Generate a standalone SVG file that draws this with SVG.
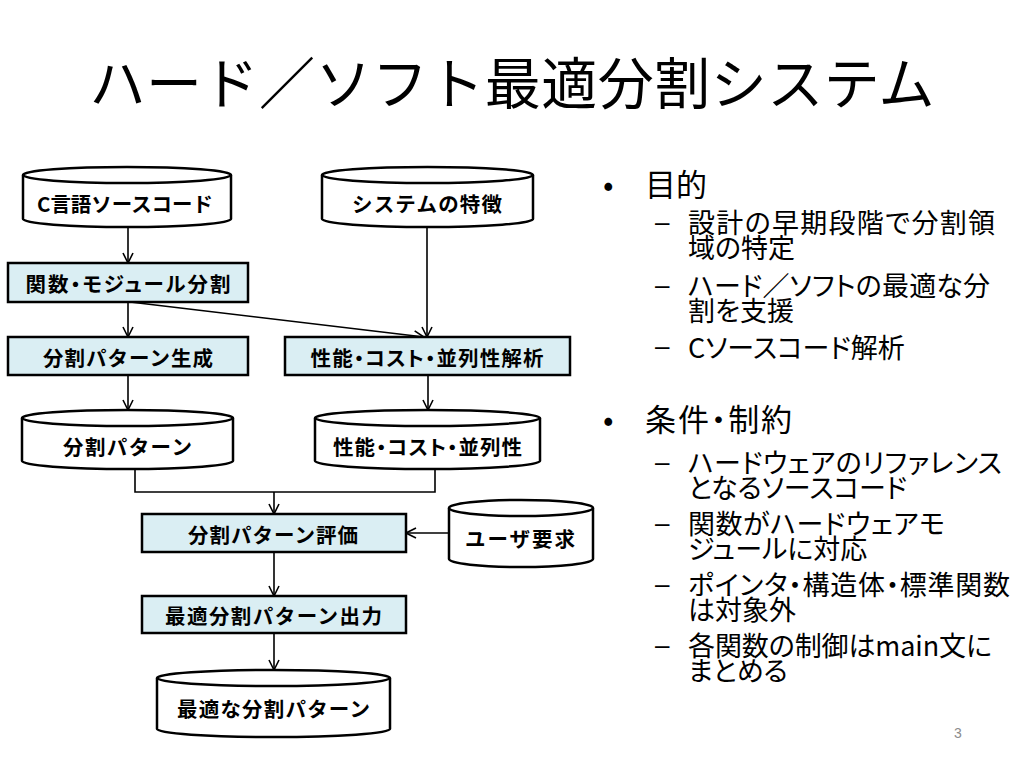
<svg xmlns="http://www.w3.org/2000/svg" width="1024" height="768" viewBox="0 0 1024 768">
<style>
.node{fill:#ffffff;stroke:#000;stroke-width:2.5}
.proc{fill:#DAEEF3;stroke:#000;stroke-width:2.5}
.inner{fill:none;stroke:#000;stroke-width:2.5}
.lbl{font-family:"Noto Sans CJK JP","Noto Sans",sans-serif;font-weight:700;font-size:20.5px;fill:#000;text-anchor:middle;dominant-baseline:central}
.lblp{font-feature-settings:"palt"}
.conn{fill:none;stroke:#000;stroke-width:1.6}
.title{font-family:"Noto Sans CJK JP","Noto Sans",sans-serif;font-size:56px;fill:#000;text-anchor:middle;dominant-baseline:central}
.b1{font-family:"Noto Sans CJK JP","Noto Sans",sans-serif;font-size:31px;fill:#000;dominant-baseline:central;font-feature-settings:"palt"}
.b2{font-family:"Noto Sans CJK JP","Noto Sans",sans-serif;font-size:27px;fill:#000;dominant-baseline:central;font-feature-settings:"palt"}
.dash{font-family:"Liberation Sans",sans-serif;font-size:26px;fill:#000;dominant-baseline:central}
.pg{font-family:"Liberation Sans",sans-serif;font-size:14px;fill:#8c8c8c;text-anchor:middle;dominant-baseline:central}
</style>
<defs>
<marker id="ah" viewBox="0 0 12 12" refX="11" refY="6" markerWidth="12" markerHeight="12" markerUnits="userSpaceOnUse" orient="auto">
<path d="M1,1 L11,6 L1,11" fill="none" stroke="#000" stroke-width="1.6"/>
</marker>
</defs>
<rect x="0" y="0" width="1024" height="768" fill="#ffffff"/>

<text class="title" x="512" y="79" textLength="845" lengthAdjust="spacing">ハード／ソフト最適分割システム</text>

<g id="connectors">
<line class="conn" x1="128" y1="227" x2="128" y2="263" marker-end="url(#ah)"/>
<line class="conn" x1="128" y1="302" x2="128" y2="337" marker-end="url(#ah)"/>
<line class="conn" x1="130" y1="302" x2="424" y2="337" marker-end="url(#ah)"/>
<line class="conn" x1="427" y1="227" x2="427" y2="337" marker-end="url(#ah)"/>
<line class="conn" x1="128" y1="375" x2="128" y2="410" marker-end="url(#ah)"/>
<line class="conn" x1="428" y1="375" x2="428" y2="410" marker-end="url(#ah)"/>
<path class="conn" d="M135,469 V492 H435 V469"/>
<line class="conn" x1="274" y1="492" x2="274" y2="514" marker-end="url(#ah)"/>
<line class="conn" x1="449" y1="533" x2="406" y2="533" marker-end="url(#ah)"/>
<line class="conn" x1="274" y1="552" x2="274" y2="596" marker-end="url(#ah)"/>
<line class="conn" x1="274" y1="633" x2="274" y2="670" marker-end="url(#ah)"/>
</g>

<g id="node-csource">
<path class="node" d="M23,175 A104,8 0 0 1 231,175 L231,219 A104,8 0 0 1 23,219 Z"/>
<path class="inner" d="M23,175 A104,8 0 0 0 231,175"/>
<text class="lbl" x="125" y="203" textLength="176" lengthAdjust="spacing">C言語ソースコード</text>
</g>

<g id="node-syschar">
<path class="node" d="M322,175 A105.5,8 0 0 1 533,175 L533,219 A105.5,8 0 0 1 322,219 Z"/>
<path class="inner" d="M322,175 A105.5,8 0 0 0 533,175"/>
<text class="lbl" x="427" y="203" textLength="150" lengthAdjust="spacing">システムの特徴</text>
</g>

<g id="node-funcsplit">
<rect class="proc" x="8" y="263" width="240" height="39"/>
<text class="lbl lblp" x="128" y="283" textLength="205" lengthAdjust="spacing">関数・モジュール分割</text>
</g>

<g id="node-patgen">
<rect class="proc" x="8" y="337" width="240" height="38"/>
<text class="lbl" x="128" y="357" textLength="170" lengthAdjust="spacing">分割パターン生成</text>
</g>

<g id="node-analysis">
<rect class="proc" x="285" y="337" width="285" height="38"/>
<text class="lbl lblp" x="427" y="357" textLength="233" lengthAdjust="spacing">性能・コスト・並列性解析</text>
</g>

<g id="node-pattern">
<path class="node" d="M22,418 A105.5,8 0 0 1 233,418 L233,461 A105.5,8 0 0 1 22,461 Z"/>
<path class="inner" d="M22,418 A105.5,8 0 0 0 233,418"/>
<text class="lbl" x="127.5" y="446" textLength="129" lengthAdjust="spacing">分割パターン</text>
</g>

<g id="node-perf">
<path class="node" d="M315,418 A112.5,8 0 0 1 540,418 L540,461 A112.5,8 0 0 1 315,461 Z"/>
<path class="inner" d="M315,418 A112.5,8 0 0 0 540,418"/>
<text class="lbl lblp" x="427.5" y="446" textLength="189" lengthAdjust="spacing">性能・コスト・並列性</text>
</g>

<g id="node-eval">
<rect class="proc" x="142" y="514" width="264" height="38"/>
<text class="lbl" x="273" y="534" textLength="170" lengthAdjust="spacing">分割パターン評価</text>
</g>

<g id="node-user">
<path class="node" d="M449,508 A72,8 0 0 1 593,508 L593,559 A72,8 0 0 1 449,559 Z"/>
<path class="inner" d="M449,508 A72,8 0 0 0 593,508"/>
<text class="lbl" x="520" y="538" textLength="110" lengthAdjust="spacing">ユーザ要求</text>
</g>

<g id="node-output">
<rect class="proc" x="142" y="596" width="264" height="37"/>
<text class="lbl" x="273.5" y="615" textLength="217" lengthAdjust="spacing">最適分割パターン出力</text>
</g>

<g id="node-best">
<path class="node" d="M157,678 A116.5,8 0 0 1 390,678 L390,729 A116.5,8 0 0 1 157,729 Z"/>
<path class="inner" d="M157,678 A116.5,8 0 0 0 390,678"/>
<text class="lbl" x="273.5" y="708" textLength="193" lengthAdjust="spacing">最適な分割パターン</text>
</g>

<g id="bullets">
<text class="b1" x="603" y="182">•</text>
<text class="b1" x="645" y="182" textLength="62" lengthAdjust="spacing">目的</text>
<text class="dash" x="655" y="222">–</text>
<text class="b2" x="688" y="221" textLength="307" lengthAdjust="spacing">設計の早期段階で分割領</text>
<text class="b2" x="688" y="246">域の特定</text>
<text class="dash" x="655" y="285">–</text>
<text class="b2" x="688" y="284" textLength="302" lengthAdjust="spacing">ハード／ソフトの最適な分</text>
<text class="b2" x="688" y="309">割を支援</text>
<text class="dash" x="655" y="346">–</text>
<text class="b2" x="688" y="346">Cソースコード解析</text>

<text class="b1" x="603" y="417">•</text>
<text class="b1" x="645" y="417" textLength="147" lengthAdjust="spacing">条件・制約</text>
<text class="dash" x="655" y="462">–</text>
<text class="b2" x="688" y="461" textLength="314" lengthAdjust="spacing">ハードウェアのリファレンス</text>
<text class="b2" x="688" y="486">となるソースコード</text>
<text class="dash" x="655" y="523">–</text>
<text class="b2" x="688" y="522" textLength="257" lengthAdjust="spacing">関数がハードウェアモ</text>
<text class="b2" x="688" y="547">ジュールに対応</text>
<text class="dash" x="655" y="584">–</text>
<text class="b2" x="688" y="583" textLength="322" lengthAdjust="spacing">ポインタ・構造体・標準関数</text>
<text class="b2" x="688" y="608">は対象外</text>
<text class="dash" x="655" y="645">–</text>
<text class="b2" x="688" y="644" textLength="304" lengthAdjust="spacing">各関数の制御はmain文に</text>
<text class="b2" x="688" y="669">まとめる</text>
</g>

<text class="pg" x="958" y="733">3</text>
</svg>
